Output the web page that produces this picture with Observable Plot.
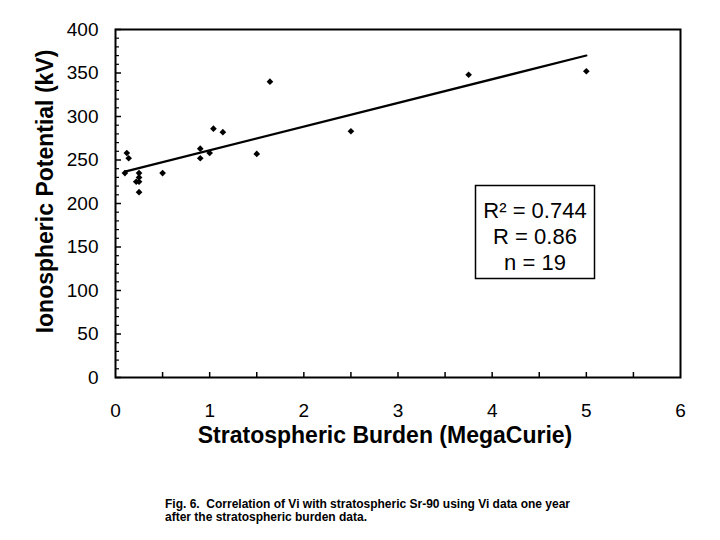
<!DOCTYPE html>
<html><head><meta charset="utf-8">
<script src="https://cdn.jsdelivr.net/npm/d3@7"></script>
<script src="https://cdn.jsdelivr.net/npm/@observablehq/plot@0.6"></script>
<style>
body{margin:0;background:#fff;font-family:"Liberation Sans",Arial,sans-serif;}
#wrap{position:relative;width:720px;height:540px;background:#fff;}
#chart{position:absolute;left:0;top:0;}
#caption{position:absolute;left:165px;top:498px;font-size:12px;font-weight:bold;line-height:13px;color:#000;}
</style></head><body>
<div id="wrap"><div id="chart"></div><div id="caption"></div></div>
<script>
// Stratospheric burden (MegaCurie) and ionospheric potential (kV), one point each
const burden    = [0.10, 0.12, 0.14, 0.25, 0.25, 0.22, 0.25, 0.25, 0.50, 0.90, 0.90, 1.00, 1.04, 1.14, 1.50, 1.64, 2.50, 3.75, 5.00];
const potential = [235,  258,  252,  235,  230,  225,  225,  213,  235,  263,  252,  258,  286,  282,  257,  340,  283,  348,  352];
const xTicks = [0, 1, 2, 3, 4, 5, 6];
const xMinorTicks = [0.5, 1, 1.5, 2, 2.5, 3, 3.5, 4, 4.5, 5, 5.5];
const yTicks = [0, 50, 100, 150, 200, 250, 300, 350, 400];
const yMinorTicks = [10,20,30,40,60,70,80,90,110,120,130,140,160,170,180,190,210,220,230,240,260,270,280,290,310,320,330,340,360,370,380,390];
const statLines = ["R² = 0.744", "R = 0.86", "n = 19"];
const xTitle = "Stratospheric Burden (MegaCurie)";
const yTitle = "Ionospheric Potential (kV)";
const captionLines = [
  "Fig. 6.\u00a0 Correlation of Vi with stratospheric Sr-90 using Vi data one year",
  "after the stratospheric burden data."
];

const data = burden.map((b, i) => ({b, v: potential[i]}));
const FONT = '"Liberation Sans", Arial, sans-serif';

const chart = Plot.plot({
  width: 720,
  height: 490,
  marginLeft: 115,
  marginRight: 40,
  marginTop: 29,
  marginBottom: 113,
  x: {domain: [0, 6]},
  y: {domain: [0, 400]},
  style: {fontFamily: FONT, color: "#000", background: "#fff", overflow: "visible"},
  marks: [
    Plot.axisX(xTicks, {tickSize: 0, tickPadding: 26, label: null, fontSize: 19}),
    Plot.axisX(xMinorTicks, {tickSize: -5, fill: "none", strokeWidth: 1.5}),
    Plot.axisY(yTicks, {tickSize: 0, tickPadding: 17, label: null, fontSize: 19}),
    Plot.axisY(yTicks, {tickSize: -6, fill: "none", strokeWidth: 1.5}),
    Plot.axisY(yMinorTicks, {tickSize: -4, fill: "none", strokeWidth: 1.2}),
    Plot.frame({stroke: "#000", strokeWidth: 2}),
    Plot.linearRegressionY(data, {x: "b", y: "v", stroke: "#000", strokeWidth: 2.2, ci: 0}),
    Plot.dot(data, {x: "b", y: "v", symbol: "diamond2", r: 3, fill: "#000", stroke: "none"}),
    Plot.frame({insetLeft: 360, insetRight: 86, insetTop: 156, insetBottom: 99, stroke: "#000", strokeWidth: 1.5}),
    Plot.text([statLines.join("\n")], {text: d => d, frameAnchor: "middle", dx: 137, dy: 32, fontSize: 22, lineHeight: 1.2, textAnchor: "middle"}),
    Plot.text([xTitle], {text: d => d, frameAnchor: "bottom", dy: 65, dx: -13, fontSize: 23, fontWeight: "bold", textAnchor: "middle"}),
    Plot.text([yTitle], {text: d => d, frameAnchor: "left", rotate: -90, dx: -70, dy: -12, fontSize: 23, fontWeight: "bold", textAnchor: "middle"})
  ]
});
document.getElementById("chart").appendChild(chart);
document.getElementById("caption").innerHTML = captionLines.join("<br>");
</script>
</body></html>
